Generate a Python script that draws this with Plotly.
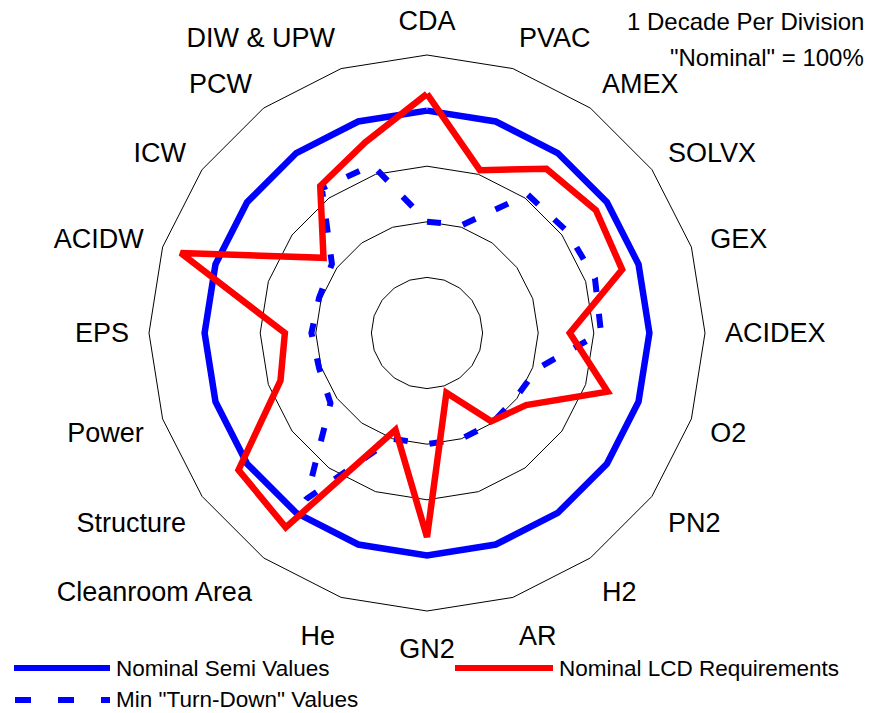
import plotly.graph_objects as go

categories = ["CDA", "PVAC", "AMEX", "SOLVX", "GEX", "ACIDEX", "O2", "PN2", "H2", "AR",
              "GN2", "He", "Cleanroom Area", "Structure", "Power", "EPS", "ACIDW", "ICW",
              "PCW", "DIW & UPW"]

nominal_semi = [100, 100, 100, 100, 100, 100, 100, 100, 100, 100,
                100, 100, 100, 100, 100, 100, 100, 100, 100, 100]
nominal_lcd = [200, 12, 45, 57, 49, 3.7, 26, 1.6, 0.92, 0.135,
               47, 0.68, 210, 155, 5.9, 3.6, 455, 2.0, 18.5, 40]
min_turndown = [1.0, 1.1, 12, 13, 15, 13.5, 1.2, 0.95, 1.0, 1.0,
                1.0, 1.0, 49, 1.4, 1.1, 1.2, 1.1, 1.3, 16.5, 15]

series_names = ["Nominal Semi Values", "Nominal LCD Requirements", 'Min "Turn-Down" Values']
note_lines = ["1 Decade Per Division", '"Nominal" = 100%']

FONT = "Arial, Liberation Sans, sans-serif"
BLUE = "#0000FF"
RED = "#FF0000"


def closed(v):
    return list(v) + [v[0]]


theta = closed(categories)

fig = go.Figure()
fig.add_trace(go.Scatterpolar(r=closed(nominal_semi), theta=theta, mode="lines",
                              name=series_names[0], line=dict(color=BLUE, width=6.5),
                              showlegend=False))
fig.add_trace(go.Scatterpolar(r=closed(min_turndown), theta=theta, mode="lines",
                              name=series_names[2],
                              line=dict(color=BLUE, width=6, dash="14px,22px"),
                              showlegend=False))
fig.add_trace(go.Scatterpolar(r=closed(nominal_lcd), theta=theta, mode="lines",
                              name=series_names[1], line=dict(color=RED, width=6.5),
                              showlegend=False))

W, H = 871, 713
fig.update_layout(
    width=W, height=H,
    margin=dict(l=0, r=0, t=0, b=0),
    paper_bgcolor="white",
    plot_bgcolor="white",
    font=dict(family=FONT, color="black"),
    polar=dict(
        domain=dict(x=[149 / W, 705 / W], y=[(H - 611) / H, (H - 55) / H]),
        bgcolor="white",
        gridshape="linear",
        radialaxis=dict(type="log", range=[-2, 3], dtick=1, showticklabels=False,
                        ticks="", showline=False, gridcolor="black", gridwidth=1),
        angularaxis=dict(direction="clockwise", rotation=90, showgrid=False,
                         showline=True, linecolor="black", linewidth=1,
                         ticks="outside", ticklen=14, tickcolor="rgba(0,0,0,0)",
                         tickfont=dict(size=27, family=FONT, color="black")),
    ),
)


def px(x):
    return x / W


def py(y):
    return 1 - y / H


# legend drawn with long line samples, as in the original
fig.add_shape(type="line", xref="paper", yref="paper", x0=px(14), x1=px(110),
              y0=py(668), y1=py(668), line=dict(color=BLUE, width=6))
fig.add_shape(type="line", xref="paper", yref="paper", x0=px(455), x1=px(553),
              y0=py(668), y1=py(668), line=dict(color=RED, width=6))
fig.add_shape(type="line", xref="paper", yref="paper", x0=px(15), x1=px(110),
              y0=py(700), y1=py(700), line=dict(color=BLUE, width=6, dash="16px,27px"))

legend_pos = [(114, 668), (557, 668), (114, 699)]
for name, (x, y) in zip(series_names, legend_pos):
    fig.add_annotation(text=name, xref="paper", yref="paper", x=px(x), y=py(y),
                       xanchor="left", yanchor="middle", showarrow=False,
                       font=dict(size=22.5, family=FONT, color="black"))

for txt, y in zip(note_lines, [22, 57]):
    fig.add_annotation(text=txt, xref="paper", yref="paper", x=px(866), y=py(y),
                       xanchor="right", yanchor="middle", showarrow=False,
                       font=dict(size=24, family=FONT, color="black"))

fig.write_html("out.html", config={"displayModeBar": False},
               post_script="document.body.style.margin='0';document.body.style.padding='0';")
